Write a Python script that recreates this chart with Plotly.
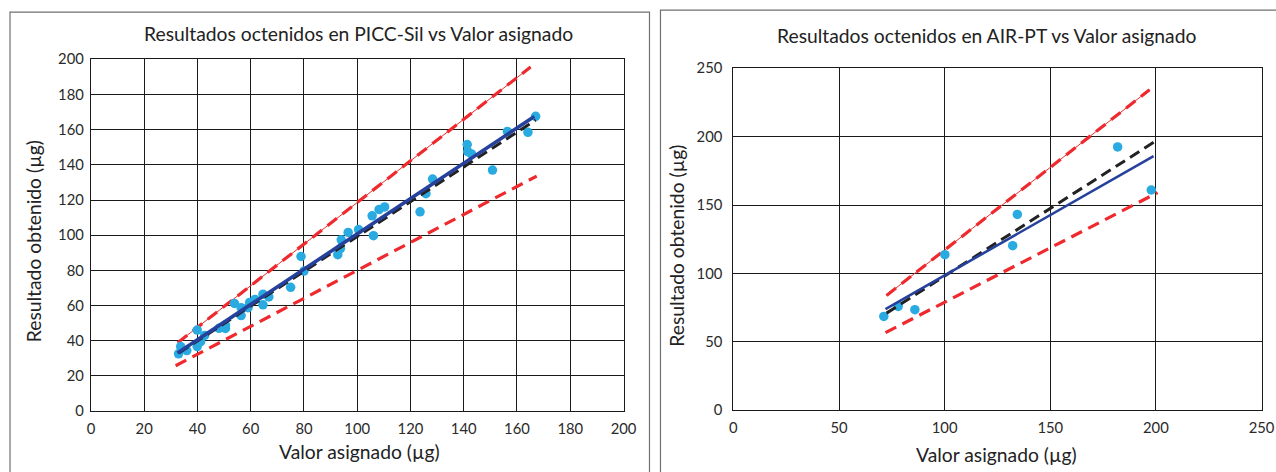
import plotly.graph_objects as go

W, H = 1276, 472

# ---------------- Data: PICC-Sil ----------------
picc_x = [32.9, 33.7, 36.0, 39.9, 39.9, 41.2, 42.7, 48.1, 50.5, 50.5, 53.9, 56.4, 56.4,
          59.0, 59.6, 61.6, 64.6, 64.6, 66.8, 75.0, 78.9, 80.0, 92.7, 93.7, 94.0, 96.6,
          100.5, 105.6, 106.1, 108.2, 110.3, 123.6, 125.8, 128.3, 141.3, 141.5, 142.9,
          150.8, 156.4, 164.1, 167.0]
picc_y = [32.6, 36.7, 34.4, 46.1, 36.7, 39.5, 43.0, 47.1, 48.9, 47.0, 61.2, 54.3, 58.8,
          58.8, 61.8, 63.5, 66.5, 60.4, 64.9, 70.4, 87.9, 79.6, 88.9, 92.4, 97.4, 101.6,
          103.2, 111.0, 99.7, 114.6, 116.1, 113.3, 123.6, 131.9, 151.5, 147.5, 146.2,
          137.0, 159.0, 158.5, 167.6]
picc_ident_x = [33.0, 167.0]
picc_ident_y = [33.0, 165.5]
picc_fit_x = [32.5, 166.5]
picc_fit_y = [33.0, 167.5]
picc_up_x = [32.6, 165.1]
picc_up_y = [38.9, 195.6]
picc_lo_x = [31.8, 167.4]
picc_lo_y = [25.8, 133.6]

# ---------------- Data: AIR-PT ----------------
air_x = [71.2, 78.0, 85.9, 100.1, 132.2, 134.4, 181.9, 197.8]
air_y = [68.6, 75.9, 73.5, 113.7, 120.3, 143.1, 192.5, 161.0]
air_ident_x = [72.5, 199.9]
air_ident_y = [71.0, 196.8]
air_fit_x = [72.0, 198.9]
air_fit_y = [73.9, 185.8]
air_up_x = [72.5, 197.0]
air_up_y = [83.9, 234.3]
air_lo_x = [72.0, 200.8]
air_lo_y = [56.7, 159.1]

left_ticks = [0, 20, 40, 60, 80, 100, 120, 140, 160, 180, 200]
right_ticks = [0, 50, 100, 150, 200, 250]

FONT = "Lato"
PT_COL = "#29abe2"
FIT_COL = "#25419b"
RED = "#ee2a2e"
BLK = "#222222"

fig = go.Figure()


def add_panel(xa, ya, px, py, ix, iy, fx, fy, ux, uy, lx, ly, fitw):
    # upper limit: thin solid + dashes
    fig.add_trace(go.Scatter(x=ux, y=uy, mode="lines", xaxis=xa, yaxis=ya,
                             line=dict(color=RED, width=1), showlegend=False, hoverinfo="skip"))
    fig.add_trace(go.Scatter(x=ux, y=uy, mode="lines", xaxis=xa, yaxis=ya,
                             line=dict(color=RED, width=3.2, dash="12px,7px"), showlegend=False))
    fig.add_trace(go.Scatter(x=lx, y=ly, mode="lines", xaxis=xa, yaxis=ya,
                             line=dict(color=RED, width=3.2, dash="12px,7px"), showlegend=False))
    fig.add_trace(go.Scatter(x=px, y=py, mode="markers", xaxis=xa, yaxis=ya,
                             marker=dict(color=PT_COL, size=9.5), showlegend=False))
    fig.add_trace(go.Scatter(x=ix, y=iy, mode="lines", xaxis=xa, yaxis=ya,
                             line=dict(color=BLK, width=3, dash="11px,6px"), showlegend=False))
    fig.add_trace(go.Scatter(x=fx, y=fy, mode="lines", xaxis=xa, yaxis=ya,
                             line=dict(color=FIT_COL, width=fitw), showlegend=False))


add_panel("x", "y", picc_x, picc_y, picc_ident_x, picc_ident_y, picc_fit_x, picc_fit_y,
          picc_up_x, picc_up_y, picc_lo_x, picc_lo_y, 3.6)
add_panel("x2", "y2", air_x, air_y, air_ident_x, air_ident_y, air_fit_x, air_fit_y,
          air_up_x, air_up_y, air_lo_x, air_lo_y, 2.6)

# Observed rendering maps the figure into ~1260x456 px with a small offset;
# convert target screen pixels into paper fractions accordingly.
OX, OY, EW, EH = 2.5, 8.3, 1260.0, 456.0


def px_x(p):
    return (p - OX) / EW


def px_y(p):
    return 1 - (p - OY) / EH


axis_common = dict(showgrid=True, gridcolor="#1a1a1a", gridwidth=1, zeroline=False,
                   showline=True, linecolor="#1a1a1a", linewidth=1.2, mirror=True,
                   ticks="", tickfont=dict(family=FONT, size=14.8, color="#2a2a2a"),
                   fixedrange=True)

fig.update_layout(
    width=W, height=H, autosize=False,
    margin=dict(l=0, r=0, t=0, b=0),
    paper_bgcolor="white", plot_bgcolor="white",
    xaxis=dict(domain=[px_x(89.5), px_x(622.5)], range=[0, 200], tickvals=left_ticks,
               anchor="y", ticklabelstandoff=4, **axis_common),
    yaxis=dict(domain=[px_y(411.2), px_y(57.8)], range=[0, 200], tickvals=left_ticks,
               anchor="x", ticklabelstandoff=3, **axis_common),
    xaxis2=dict(domain=[px_x(732.5), px_x(1261)], range=[0, 250], tickvals=right_ticks,
                anchor="y2", ticklabelstandoff=4, **axis_common),
    yaxis2=dict(domain=[px_y(410.3), px_y(66.8)], range=[0, 250], tickvals=right_ticks,
                anchor="x2", ticklabelstandoff=7, **axis_common),
)

annots = [
    ("Resultados octenidos en PICC-Sil vs Valor asignado", 357, 31.5, 0),
    ("Resultados octenidos en AIR-PT vs Valor asignado", 986, 33.5, 0),
    ("Valor asignado (µg)", 358, 452, 0),
    ("Valor asignado (µg)", 996, 455, 0),
    ("Resultado obtenido (µg)", 32, 240, -90),
    ("Resultado obtenido (µg)", 676, 245, -90),
]
for text, ax_, ay_, rot in annots:
    fig.add_annotation(text=text, x=px_x(ax_), y=px_y(ay_), xref="paper", yref="paper",
                       showarrow=False, textangle=rot, xanchor="center", yanchor="middle",
                       font=dict(family=FONT, size=19.3, color="#222222"))

# Panel frames
fig.add_shape(type="rect", xref="paper", yref="paper", x0=px_x(8.5), x1=px_x(648.5),
              y0=px_y(490), y1=px_y(10.5), line=dict(color="#707070", width=1.2))
fig.add_shape(type="rect", xref="paper", yref="paper", x0=px_x(659.5), x1=px_x(1300),
              y0=px_y(490), y1=px_y(8.5), line=dict(color="#707070", width=1.2))

fig.write_html(
    "out.html",
    config={"responsive": False, "displayModeBar": False},
    post_script="document.body.style.margin='0';document.body.style.overflow='hidden';",
)
